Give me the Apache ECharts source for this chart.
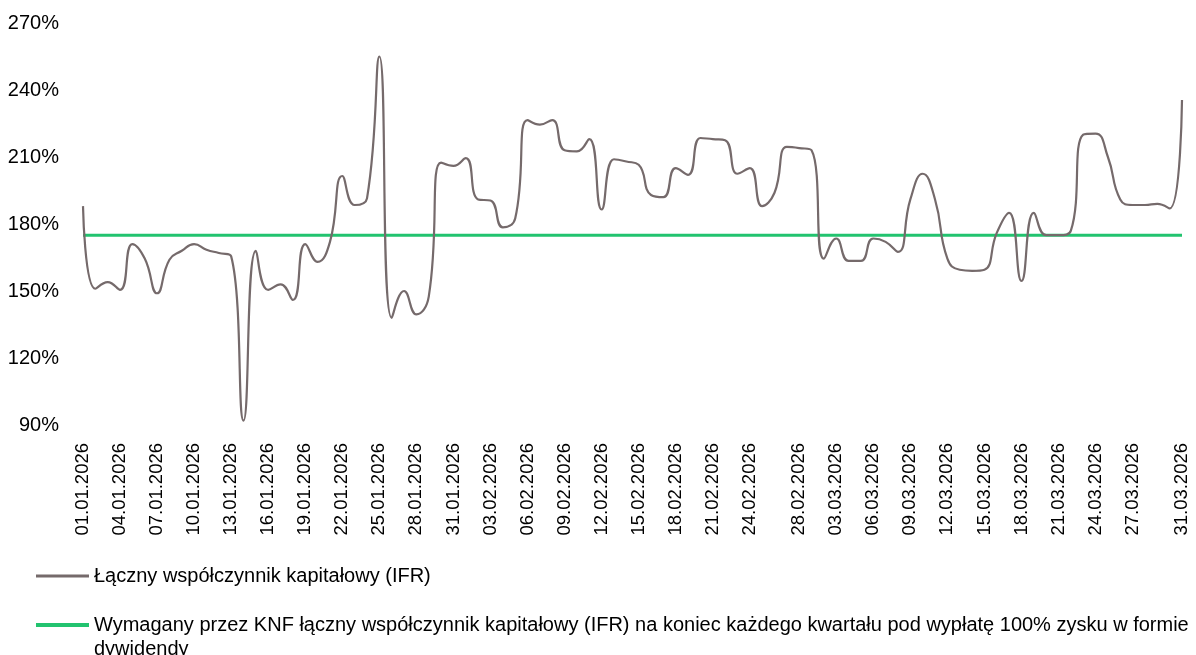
<!DOCTYPE html>
<html>
<head>
<meta charset="utf-8">
<script src="https://cdn.jsdelivr.net/npm/echarts@6/dist/echarts.min.js"></script>
<style>
  html, body { margin: 0; padding: 0; background: #fff; }
  #chart { width: 1196px; height: 655px; }
</style>
</head>
<body>
<div id="chart"></div>
<script>
// dni 01.01.2026 - 31.03.2026
var days = [];
var d = new Date(2026, 0, 1);
while (d <= new Date(2026, 2, 31)) {
  var dd = ('0' + d.getDate()).slice(-2);
  var mm = ('0' + (d.getMonth() + 1)).slice(-2);
  days.push(dd + '.' + mm + '.' + d.getFullYear());
  d.setDate(d.getDate() + 1);
}

var tickLabels = [
  '01.01.2026', '04.01.2026', '07.01.2026', '10.01.2026', '13.01.2026', '16.01.2026',
  '19.01.2026', '22.01.2026', '25.01.2026', '28.01.2026', '31.01.2026', '03.02.2026',
  '06.02.2026', '09.02.2026', '12.02.2026', '15.02.2026', '18.02.2026', '21.02.2026',
  '24.02.2026', '28.02.2026', '03.03.2026', '06.03.2026', '09.03.2026', '12.03.2026',
  '15.03.2026', '18.03.2026', '21.03.2026', '24.03.2026', '27.03.2026', '31.03.2026'
];

var ifr = [
  188, 151, 154, 150.5, 171, 164.5, 149, 164, 168, 171,
  168.5, 167, 165.5, 92, 168, 150.5, 153, 146, 171, 163,
  172, 201.5, 188.5, 191.5, 255, 138, 150, 139.5, 147.5, 207.5,
  206, 209.5, 191, 190.5, 178.5, 182.5, 226.5, 224.5, 226.5, 213,
  212.5, 218, 186.5, 209, 208, 206.5, 193, 192, 205, 202,
  218.5, 218, 217.5, 202.5, 205, 188, 194, 214.5, 214, 213,
  164.5, 173.5, 163.5, 163.5, 173.5, 172, 167.5, 191, 202.5, 191,
  164.5, 159.5, 159, 159.5, 176, 185, 154.5, 185, 175, 175,
  177, 220, 220.5, 210, 191, 188.5, 188.5, 189, 187, 235.5
];

var required = days.map(function () { return 175; });

var yTicks = [90, 120, 150, 180, 210, 240, 270];

var name1 = 'Łączny współczynnik kapitałowy (IFR)';
var name2 = 'Wymagany przez KNF łączny współczynnik kapitałowy (IFR) na koniec każdego kwartału pod wypłatę 100% zysku w formie dywidendy';

var chart = echarts.init(document.getElementById('chart'));

var font = 'Liberation Sans, Arial, sans-serif';

option = {
  animation: false,
  textStyle: { fontFamily: font },
  grid: {
    left: 83,
    right: 14,
    top: 23,
    bottom: 230
  },
  legend: [
    {
      data: [name1],
      left: 31,
      top: 561,
      icon: 'rect',
      itemWidth: 53,
      itemHeight: 3,
      textStyle: { fontSize: 20, color: '#000', fontFamily: font }
    },
    {
      data: [name2],
      left: 31,
      top: 584,
      icon: 'rect',
      itemWidth: 53,
      itemHeight: 4,
      // pusta linia na gorze, zeby znacznik stal przy pierwszym wierszu
      formatter: function (n) { return '\n' + n.replace(' dywidendy', '\ndywidendy'); },
      textStyle: {
        fontSize: 20,
        color: '#000',
        fontFamily: font,
        lineHeight: 24
      }
    }
  ],
  xAxis: {
    type: 'category',
    data: days,
    boundaryGap: false,
    axisLine: { show: false },
    axisTick: { show: false },
    axisLabel: {
      rotate: 90,
      margin: 18,
      fontSize: 18.5,
      color: '#000',
      fontFamily: font,
      interval: function (index, value) {
        return tickLabels.indexOf(value) !== -1;
      }
    },
    splitLine: { show: false }
  },
  yAxis: {
    type: 'value',
    min: yTicks[0],
    max: yTicks[yTicks.length - 1],
    interval: 30,
    axisLine: { show: false },
    axisTick: { show: false },
    splitLine: { show: false },
    axisLabel: {
      margin: 24,
      fontSize: 20,
      color: '#000',
      fontFamily: font,
      formatter: '{value}%'
    }
  },
  series: [
    {
      name: name1,
      type: 'line',
      data: ifr,
      smooth: 0.5,
      symbol: 'none',
      lineStyle: { color: '#756a6b', width: 2.2 },
      itemStyle: { color: '#756a6b' },
      z: 3
    },
    {
      name: name2,
      type: 'line',
      data: required,
      symbol: 'none',
      lineStyle: { color: '#22c36f', width: 3 },
      itemStyle: { color: '#22c36f' },
      z: 2
    }
  ]
};

chart.setOption(option);
</script>
</body>
</html>
